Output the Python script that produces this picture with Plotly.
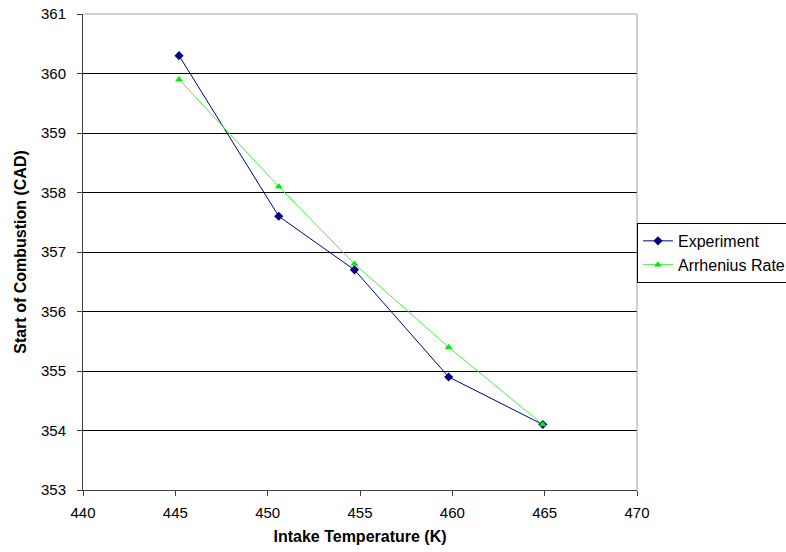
import plotly.graph_objects as go

intake_temp = [445.2, 450.6, 454.7, 459.8, 464.9]
experiment = [360.3, 357.6, 356.7, 354.9, 354.1]
arrhenius = [359.9, 358.1, 356.8, 355.4, 354.1]
x_ticks = [440, 445, 450, 455, 460, 465, 470]
y_ticks = [353, 354, 355, 356, 357, 358, 359, 360, 361]

fig = go.Figure()
fig.add_trace(go.Scatter(
    x=intake_temp, y=experiment, mode="lines+markers", name="Experiment",
    line=dict(color="#000080", width=1),
    marker=dict(symbol="diamond", size=7, color="#000080"),
))
fig.add_trace(go.Scatter(
    x=intake_temp, y=arrhenius, mode="lines+markers", name="Arrhenius Rate",
    line=dict(color="#44ee44", width=1),
    marker=dict(symbol="triangle-up", size=7, color="#00ee00"),
))

font_family = "Liberation Sans, Arial, sans-serif"
fig.update_layout(
    width=786, height=552,
    margin=dict(l=83, r=149, t=14, b=62, autoexpand=False),
    paper_bgcolor="white", plot_bgcolor="white",
    font=dict(family=font_family, size=15, color="#000000"),
    showlegend=True,
    legend=dict(
        x=1.0, xanchor="left", y=0.498, yanchor="middle",
        bordercolor="#000000", borderwidth=1, bgcolor="white",
        font=dict(size=16, family=font_family),
        tracegroupgap=0, itemwidth=30,
    ),
    xaxis=dict(
        range=[440, 470], tickvals=x_ticks, ticktext=[str(v) for v in x_ticks],
        showgrid=False, zeroline=False,
        showline=True, linecolor="#404040", linewidth=1,
        ticks="outside", ticklen=5, tickcolor="#404040",
        tickfont=dict(size=15), ticklabelstandoff=4,
        title=dict(text="<b>Intake Temperature (K)</b>", font=dict(size=16), standoff=10),
    ),
    yaxis=dict(
        range=[353, 361], tickvals=y_ticks, ticktext=[str(v) for v in y_ticks],
        showgrid=True, gridcolor="#000000", gridwidth=1, zeroline=False,
        showline=True, linecolor="#404040", linewidth=1,
        ticks="outside", ticklen=5, tickcolor="#404040",
        tickfont=dict(size=15), ticklabelstandoff=8,
        title=dict(text="<b>Start of Combustion (CAD)</b>", font=dict(size=16), standoff=10),
    ),
    shapes=[
        dict(type="line", xref="paper", yref="paper", x0=0, x1=1, y0=1, y1=1,
             line=dict(color="#a0a0a0", width=1)),
        dict(type="line", xref="paper", yref="paper", x0=1, x1=1, y0=0, y1=1,
             line=dict(color="#a0a0a0", width=1)),
    ],
)

fig.write_html("out.html")
